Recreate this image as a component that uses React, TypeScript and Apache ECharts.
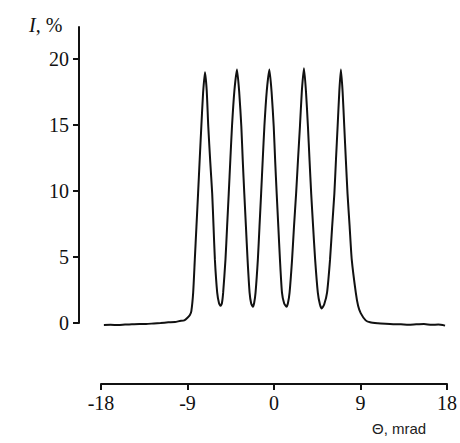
import React, { useEffect, useRef } from "react";
import * as echarts from "echarts";

const thetaValues = [
  -17.7, -17.0, -16.2, -15.5, -14.8, -14.0, -13.3, -12.5, -11.8, -11.0, -10.3, -9.8, -9.34, -9.0, -8.75, -8.6,
  -8.41, -8.24, -8.07, -7.9, -7.73, -7.56, -7.38, -7.18, -7.0, -6.84, -6.64, -6.43, -6.29, -6.15, -5.91, -5.72,
  -5.56, -5.42, -5.29, -5.05, -4.88, -4.71, -4.54, -4.37, -4.12, -3.85, -3.62, -3.4, -3.25, -3.09, -2.92, -2.75,
  -2.54, -2.38, -2.2, -2.07, -1.92, -1.68, -1.51, -1.34, -1.17, -1.0, -0.75, -0.48, -0.25, -0.03, 0.12, 0.28,
  0.45, 0.62, 0.83, 1.05, 1.3, 1.45, 1.62, 1.88, 2.08, 2.3, 2.5, 2.7, 2.9, 3.12, 3.33, 3.53, 3.7, 3.87, 4.07,
  4.28, 4.56, 4.78, 4.97, 5.22, 5.52, 5.83, 6.05, 6.28, 6.45, 6.62, 6.8, 6.96, 7.14, 7.31, 7.48, 7.65, 7.87,
  8.09, 8.51, 8.75, 9.02, 9.54, 10.0, 10.8, 11.6, 12.4, 13.2, 14.0, 14.8, 15.6, 16.4, 17.1, 17.8,
];

const intensityValues = [
  -0.15, -0.14, -0.16, -0.12, -0.1, -0.07, -0.08, -0.03, 0.0, 0.05, 0.08, 0.15, 0.2, 0.4, 0.6, 0.9,
  2.3, 4.8, 7.3, 9.8, 12.4, 14.9, 17.4, 19.0, 17.6, 14.9, 12.3, 9.8, 7.3, 4.8, 2.3, 1.5,
  1.3, 1.5, 2.3, 4.8, 7.3, 9.8, 12.4, 14.9, 17.6, 19.2, 17.5, 14.9, 12.3, 9.8, 7.3, 4.8,
  2.3, 1.5, 1.24, 1.5, 2.3, 4.8, 7.3, 9.8, 12.4, 14.9, 17.6, 19.2, 17.5, 14.9, 12.3, 9.8,
  7.3, 4.8, 2.3, 1.5, 1.24, 1.5, 2.3, 4.8, 7.3, 9.8, 12.4, 14.9, 17.6, 19.3, 17.5, 14.9, 12.3, 9.8, 7.3,
  4.8, 2.3, 1.4, 1.1, 1.4, 2.3, 4.8, 7.3, 9.8, 12.4, 14.9, 17.6, 19.2, 17.5, 14.9, 12.3, 9.8, 7.3,
  4.8, 2.3, 1.3, 0.75, 0.2, 0.05, -0.02, -0.06, -0.09, -0.1, -0.13, -0.1, -0.08, -0.14, -0.12, -0.2,
];

const yTickValues = [0, 5, 10, 15, 20];
const xTickInterval = 9;
const xMin = -18;
const xMax = 18;
const yAxisTitle = "{i|I}, %";
const xAxisTitle = "\u0398, mrad";

export default function App() {
  const ref = useRef<HTMLDivElement>(null);

  useEffect(() => {
    if (!ref.current) return;
    const chart = echarts.init(ref.current, undefined, { renderer: "svg" });
    const data = thetaValues.map((x, i) => [x, intensityValues[i]]);
    const ink = "#111";
    chart.setOption({
      animation: false,
      backgroundColor: "#fff",
      grid: { left: 101, right: 9, top: 27, bottom: 120 },
      xAxis: {
        type: "value",
        min: xMin,
        max: xMax,
        interval: xTickInterval,
        position: "bottom",
        offset: 61,
        axisLine: { show: true, onZero: false, lineStyle: { color: ink, width: 2 } },
        axisTick: { show: true, length: 6, lineStyle: { color: ink, width: 2 } },
        axisLabel: {
          color: ink,
          fontSize: 20,
          fontFamily: "Liberation Serif",
          margin: 9,
        },
        splitLine: { show: false },
      },
      yAxis: {
        type: "value",
        min: 0,
        max: 22.42,
        position: "left",
        offset: 22,
        axisLine: { show: true, onZero: false, lineStyle: { color: ink, width: 2 } },
        axisTick: {
          show: true,
          length: 6,
          customValues: yTickValues,
          lineStyle: { color: ink, width: 2 },
        },
        axisLabel: {
          color: ink,
          fontSize: 20,
          fontFamily: "Liberation Serif",
          margin: 10,
          customValues: yTickValues,
        },
        splitLine: { show: false },
      },
      graphic: [
        {
          type: "text",
          left: 29,
          top: 15,
          style: {
            text: yAxisTitle,
            fontSize: 20,
            fontFamily: "Liberation Serif",
            fill: ink,
            rich: {
              i: { fontStyle: "italic", fontSize: 20, fontFamily: "Liberation Serif", fill: ink },
            },
          },
        },
        {
          type: "text",
          left: 372,
          top: 421,
          style: {
            text: xAxisTitle,
            fontSize: 15,
            fontFamily: "Liberation Sans",
            fill: "#222",
          },
        },
      ],
      series: [
        {
          type: "line",
          data,
          showSymbol: false,
          clip: false,
          smooth: 0.2,
          lineStyle: { color: ink, width: 2 },
        },
      ],
    });
    return () => chart.dispose();
  }, []);

  return (
    <div
      ref={ref}
      style={{ position: "fixed", left: 0, top: 0, width: 460, height: 443 }}
    />
  );
}
